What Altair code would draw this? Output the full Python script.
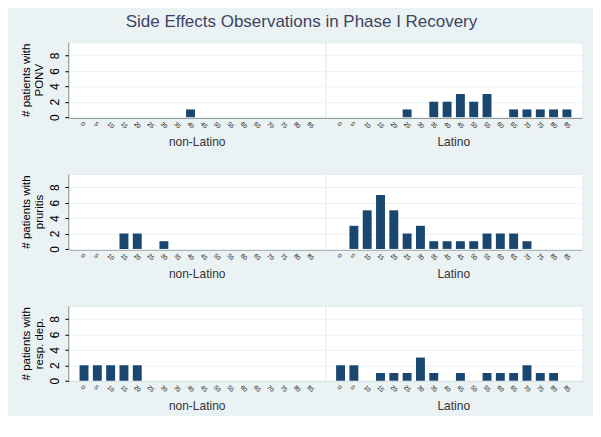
import altair as alt
import pandas as pd

ages = ["0", "5", "10", "15", "20", "25", "30", "35", "40", "45",
        "50", "55", "60", "65", "70", "75", "80", "85"]
groups = ["non-Latino", "Latino"]

ponv_nonlatino = [0, 0, 0, 0, 0, 0, 0, 0, 1, 0, 0, 0, 0, 0, 0, 0, 0, 0]
ponv_latino = [0, 0, 0, 0, 0, 1, 0, 2, 2, 3, 2, 3, 0, 1, 1, 1, 1, 1]
prur_nonlatino = [0, 0, 0, 2, 2, 0, 1, 0, 0, 0, 0, 0, 0, 0, 0, 0, 0, 0]
prur_latino = [0, 3, 5, 7, 5, 2, 3, 1, 1, 1, 1, 2, 2, 2, 1, 0, 0, 0]
resp_nonlatino = [2, 2, 2, 2, 2, 0, 0, 0, 0, 0, 0, 0, 0, 0, 0, 0, 0, 0]
resp_latino = [2, 2, 0, 1, 1, 1, 3, 1, 0, 1, 0, 1, 1, 1, 2, 1, 1, 0]

y_titles = [["# patients with", "PONV"],
            ["# patients with", "pruritis"],
            ["# patients with", "resp. dep."]]

NAVY = "#1A476F"
BG = "#EAF2F3"
FONT = "Liberation Sans"


def row_chart(ytitle, nonlat, lat):
    df = pd.DataFrame({
        "group": [groups[0]] * len(ages) + [groups[1]] * len(ages),
        "age": ages + ages,
        "count": nonlat + lat,
    })
    base = alt.Chart(df).mark_bar(color=NAVY).encode(
        x=alt.X("age:O", sort=ages,
                scale=alt.Scale(paddingInner=0.33, paddingOuter=0.8),
                axis=alt.Axis(title=None, labelAngle=45, labelFontSize=6,
                              ticks=False, labelPadding=3,
                              domainColor="#000000", domainWidth=1.5,
                              labelColor="#000000")),
        y=alt.Y("count:Q", scale=alt.Scale(domain=[0, 9.7], nice=False),
                axis=alt.Axis(values=[0, 2, 4, 6, 8], title=ytitle,
                              labelAngle=270, labelAlign="center",
                              labelBaseline="bottom", labelFontSize=12,
                              labelColor="#000000", tickSize=4,
                              tickColor="#000000", domainColor="#000000",
                              domainWidth=1.5, titleFontSize=11.5,
                              titleFontWeight="normal", titleColor="#000000",
                              titlePadding=4, labelPadding=3,
                              grid=True, gridColor=BG)),
    ).properties(width=257, height=75)
    return base.facet(
        column=alt.Column("group:N", sort=groups,
                          header=alt.Header(title=None, labelOrient="bottom",
                                            labelFontSize=12, labelColor="#333333",
                                            labelFont=FONT, labelPadding=8)),
        spacing=0,
        bounds="flush",
    )


rows = [row_chart(y_titles[0], ponv_nonlatino, ponv_latino),
        row_chart(y_titles[1], prur_nonlatino, prur_latino),
        row_chart(y_titles[2], resp_nonlatino, resp_latino)]

chart = alt.vconcat(*rows, spacing=25).properties(
    title=alt.TitleParams("Side Effects Observations in Phase I Recovery",
                          fontSize=17, fontWeight="normal", color="#3D4461",
                          font=FONT, anchor="middle", offset=11),
    background=BG,
    padding={"left": 12, "top": 4, "right": 10, "bottom": 4},
).configure_view(fill="white", stroke="#E6EDEF").configure_axis(
    labelFont=FONT, titleFont=FONT
)

chart.save("out.html", embed_options={"renderer": "svg", "actions": False})
